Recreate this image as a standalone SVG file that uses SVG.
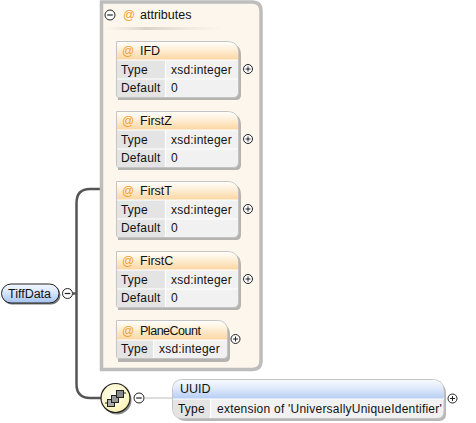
<svg xmlns="http://www.w3.org/2000/svg" width="476" height="423" viewBox="0 0 476 423">
<defs>
<linearGradient id="orange" x1="0" y1="0" x2="0" y2="1"><stop offset="0" stop-color="#fffefb"/><stop offset=".4" stop-color="#fef0d8"/><stop offset="1" stop-color="#fbd5a0"/></linearGradient>
<linearGradient id="blue" x1="0" y1="0" x2="0" y2="1"><stop offset="0" stop-color="#f8faff"/><stop offset=".4" stop-color="#e2ebfb"/><stop offset="1" stop-color="#b4cdf3"/></linearGradient>
<linearGradient id="root" x1="0" y1="0" x2="0" y2="1"><stop offset="0" stop-color="#f4f8ff"/><stop offset=".5" stop-color="#d5e3fa"/><stop offset="1" stop-color="#a4c2f0"/></linearGradient>
<linearGradient id="fade" x1="0" y1="0" x2="1" y2="0"><stop offset="0" stop-color="#e6e0d6" stop-opacity="0"/><stop offset=".35" stop-color="#d8d3ca"/><stop offset="1" stop-color="#e6e0d6" stop-opacity="0"/></linearGradient>
<radialGradient id="seq" cx=".45" cy=".4" r=".65"><stop offset="0" stop-color="#fffff4"/><stop offset="1" stop-color="#fbf0b0"/></radialGradient>
<g id="plus"><circle r="4.5" fill="#fff" stroke="#222" stroke-width="1"/><path d="M-2.500 0H2.500M0-2.500V2.500" stroke="#222" stroke-width="1"/></g>
<g id="minus"><circle r="5" fill="#fff" stroke="#222" stroke-width="1"/><path d="M-2.800 0H2.800" stroke="#222" stroke-width="1.200"/></g>
<g id="attr">
<path d="M118 44H230Q241 44 241 55V95Q241 100 236 100H118Z" fill="#8f8f8f" opacity=".65"/>
<path d="M116.500 41.500H227Q238.500 41.500 238.500 53V92Q238.500 97.500 233 97.500H119Q116.500 97.500 116.500 95Z" fill="#f1f1f1" stroke="#c4c4c4"/>
<path d="M117 42H227Q238 42 238 53V60H117Z" fill="url(#orange)"/>
<path d="M117 60H165V79H117ZM117 79H165V97H119Q117 97 117 95Z" fill="#e4e4e4"/>
<path d="M117 60H238M117 79H238M165.500 60V97" stroke="#fff" stroke-width="1.200" fill="none"/>
<text x="122" y="55" class="at">@</text>
<text x="121" y="73.500" class="t">Type</text>
<text x="121" y="91.500" class="t">Default</text>
<text x="171" y="73.500" class="t">xsd:integer</text>
<text x="171" y="91.500" class="t">0</text>
<use href="#plus" x="248" y="69"/>
</g>
</defs>
<style>
text{font-family:"Liberation Sans",Arial,sans-serif;font-size:12px;fill:#111}
.t{letter-spacing:.2px}
.at{fill:#f0a030}
.n{font-size:12.500px}
.c{fill:none;stroke:#555;stroke-width:2.500}
</style>
<rect width="476" height="423" fill="#fff"/>
<g id="connectors">
<path class="c" d="M73 293.500H77M101 189H90Q76.500 189 76.500 203V384Q76.500 398 90 398H103"/>
<path d="M145 398H174" stroke="#bbb" stroke-width="1" fill="none"/>
</g>
<g id="attributes">
<path d="M101.500 2H252Q261 2 261 11V361Q261 369.500 252 369.500H101.500Z" fill="#fdf6ec" stroke="#bdbdbd" stroke-width="3.500"/>
<rect x="104" y="27" width="120" height="3" fill="url(#fade)"/>
<use href="#minus" x="110" y="15"/>
<text x="123" y="19" class="at">@</text>
<text x="140" y="19" class="n">attributes</text>
</g>
<g id="IFD"><use href="#attr"/><text x="140" y="55" class="n">IFD</text></g>
<g id="FirstZ"><use href="#attr" y="70"/><text x="140" y="125" class="n">FirstZ</text></g>
<g id="FirstT"><use href="#attr" y="140"/><text x="140" y="195" class="n">FirstT</text></g>
<g id="FirstC"><use href="#attr" y="210"/><text x="140" y="265" class="n">FirstC</text></g>
<g id="PlaneCount">
<path d="M118 324H219Q230 324 230 335V357Q230 362 225 362H118Z" fill="#8f8f8f" opacity=".65"/>
<path d="M116.500 320.500H217Q227.500 320.500 227.500 331V354Q227.500 358.500 223 358.500H119Q116.500 358.500 116.500 356Z" fill="#f1f1f1" stroke="#c4c4c4"/>
<path d="M117 321H217Q227 321 227 331V340H117Z" fill="url(#orange)"/>
<path d="M117 340H153V358H119Q117 358 117 356Z" fill="#e4e4e4"/>
<path d="M117 340H227M153.500 340V358" stroke="#fff" stroke-width="1.200" fill="none"/>
<text x="122" y="335" class="at">@</text>
<text x="140" y="335" class="n" textLength="61">PlaneCount</text>
<text x="121" y="353" class="t">Type</text>
<text x="159" y="353" class="t">xsd:integer</text>
<use href="#plus" x="235.500" y="339"/>
</g>
<g id="TiffData">
<rect x="2.500" y="285.500" width="58" height="19" rx="9.500" fill="#777"/>
<rect x="1.500" y="284" width="57.500" height="19" rx="9.500" fill="url(#root)" stroke="#222"/>
<text x="8" y="297.500" class="n" textLength="43">TiffData</text>
<use href="#minus" x="67.500" y="293.500"/>
</g>
<g id="sequence">
<circle cx="117" cy="400" r="14.500" fill="#888"/>
<circle cx="115.500" cy="398" r="14.500" fill="url(#seq)" stroke="#222" stroke-width="1.200"/>
<path d="M105 403H108M123 393H126" stroke="#222" stroke-width="1.200"/>
<rect x="107.500" y="399.500" width="7" height="7" fill="#aaa" stroke="#222"/>
<rect x="111.500" y="395.500" width="7" height="7" fill="#999" stroke="#222"/>
<rect x="116.500" y="390.500" width="7" height="7" fill="#888" stroke="#222"/>
<use href="#minus" x="139" y="398"/>
</g>
<g id="UUID">
<path d="M176 382H434Q446 382 446 394V414Q446 421 439 421H186Q176 421 176 411Z" fill="#8f8f8f" opacity=".65"/>
<path d="M183 379.500H432Q444 379.500 444 391V411Q444 418.500 437 418.500H183Q172.500 418.500 172.500 408V390Q172.500 379.500 183 379.500Z" fill="#f1f1f1" stroke="#c4c4c4"/>
<path d="M183 380H432Q443.500 380 443.500 391V399H173V390Q173 380 183 380Z" fill="url(#blue)"/>
<path d="M173 399H210V418H183Q173 418 173 408Z" fill="#e4e4e4"/>
<path d="M173 399H444M210.500 399V418" stroke="#fff" stroke-width="1.200" fill="none"/>
<text x="180" y="393" class="n">UUID</text>
<text x="178" y="413" class="t">Type</text>
<text x="217" y="413" class="t" textLength="225">extension of 'UniversallyUniqueIdentifier'</text>
<use href="#plus" x="452.500" y="398.500"/>
</g>
</svg>
